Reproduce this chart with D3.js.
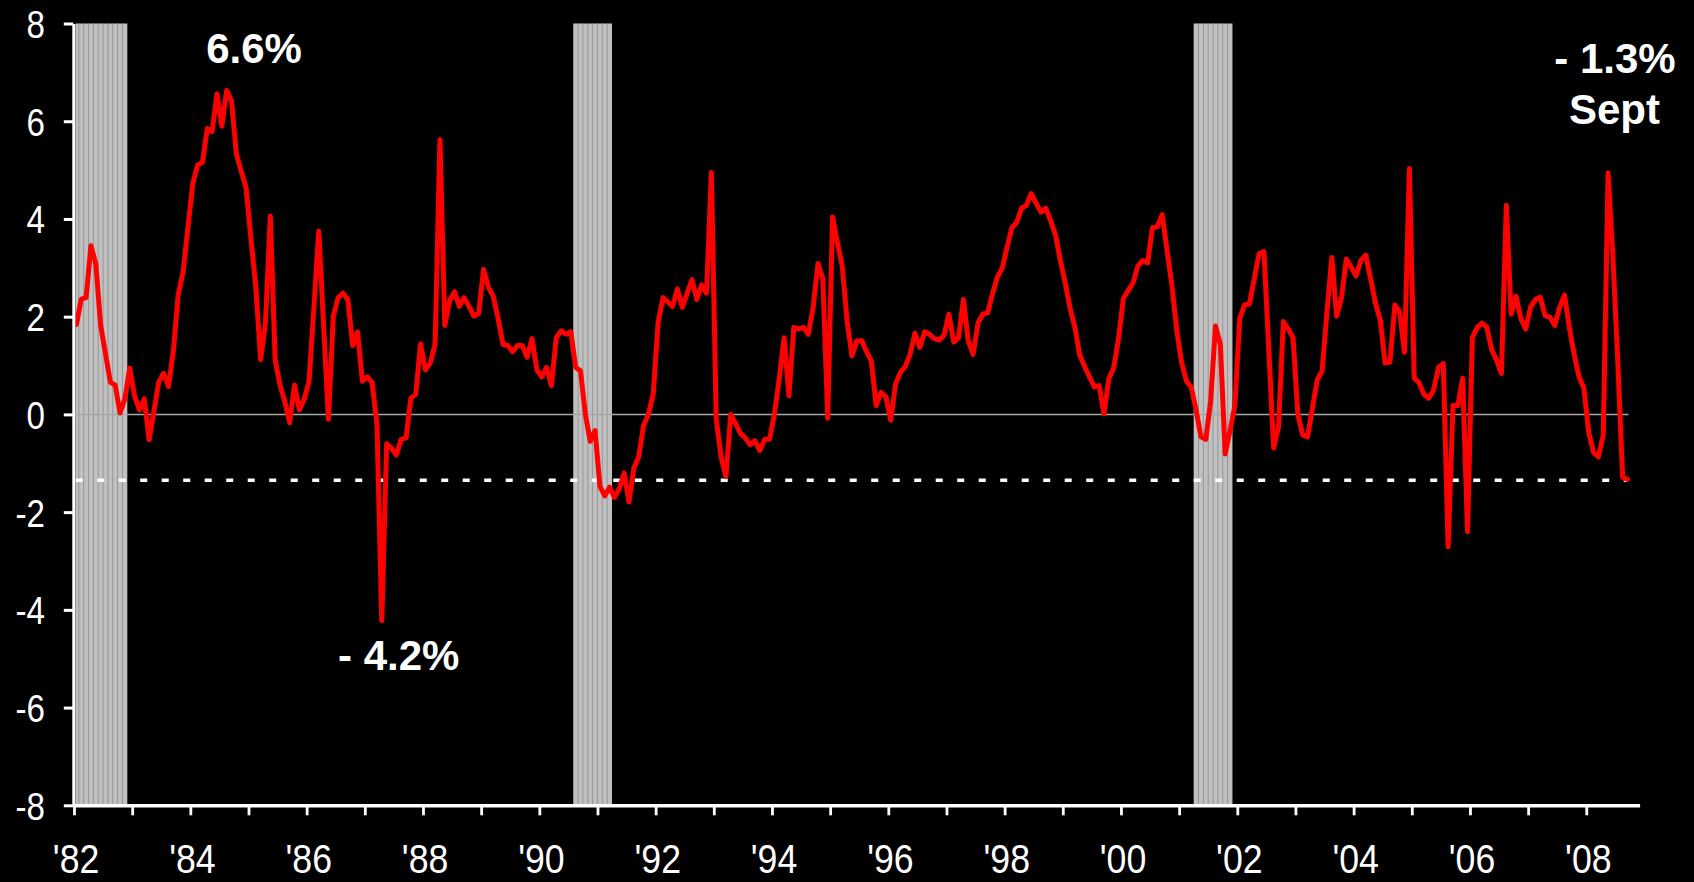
<!DOCTYPE html>
<html>
<head>
<meta charset="utf-8">
<script src="https://cdn.jsdelivr.net/npm/d3@7"></script>
<style>
  html, body { margin: 0; padding: 0; background: #000; overflow: hidden; }
  svg { display: block; }
</style>
</head>
<body>
<svg id="chart" width="1694" height="882"></svg>
<script>
// ---- Data ----
// Month offset counted from Jan 1982 (0 = Jan 1982, 320 = Sep 2008)
const monthsSinceJan1982 = [
  0,1,2,3,4,5,6,7,8,9,10,11,12,13,14,15,17,18,19,20,21,22,24,25,26,27,28,29,30,31,32,33,34,35,36,37,38,39,
  40,41,42,43,44,45,46,47,48,49,50,51,52,53,54,55,56,57,58,59,60,61,62,63,64,65,66,67,68,69,70,71,72,73,74,
  75,76,77,78,79,80,81,82,83,84,85,86,87,88,89,90,91,92,93,94,95,96,97,98,99,100,101,102,103,104,105,106,
  107,108,109,110,111,112,113,114,115,116,117,118,119,120,121,122,123,124,125,126,127,128,129,130,131,132,
  133,134,135,136,137,138,139,140,141,142,143,144,145,146,147,148,149,150,151,152,153,154,155,156,157,158,
  159,160,161,162,163,164,165,166,167,168,169,170,171,172,173,174,175,176,177,178,179,180,181,182,183,184,
  185,186,187,188,189,190,191,192,193,194,195,196,197,198,199,200,201,202,203,204,205,206,207,208,210,211,
  212,213,214,215,216,217,218,219,220,221,222,223,224,226,227,228,229,230,231,232,233,234,235,236,237,238,
  239,240,241,242,244,245,247,248,249,250,251,252,253,254,255,256,257,258,259,260,261,262,263,264,265,266,
  267,268,269,270,271,272,273,274,275,276,277,278,279,280,281,282,283,284,285,286,287,288,289,290,291,292,
  293,294,295,296,297,298,299,300,301,302,303,304,305,306,307,308,309,310,311,312,313,314,315,316,317,318,
  319,320
];
const values = [
  1.84,2.36,2.39,3.45,3.08,1.82,1.24,0.66,0.6,0.03,0.32,0.95,0.38,0.09,0.32,-0.52,0.67,0.84,0.57,1.3,2.45,2.91,
  4.72,5.1,5.16,5.85,5.79,6.56,5.9,6.63,6.42,5.33,4.98,4.64,3.6,2.62,1.12,1.87,
  4.06,1.12,0.6,0.26,-0.17,0.6,0.09,0.31,0.68,2.19,3.75,1.82,-0.1,2.01,2.39,2.48,2.35,1.41,1.69,0.68,0.77,0.65,
  -0.19,-4.22,-0.6,-0.69,-0.83,-0.51,-0.48,0.33,0.41,1.44,0.91,1.05,1.44,
  5.62,1.82,2.33,2.51,2.21,2.39,2.21,2.01,2.07,2.97,2.6,2.42,1.96,1.43,1.41,1.28,1.41,1.41,1.17,1.55,0.91,0.77,
  0.96,0.59,1.57,1.71,1.64,1.69,0.96,0.89,0,-0.55,
  -0.33,-1.47,-1.67,-1.49,-1.7,-1.52,-1.2,-1.79,-1.1,-0.87,-0.23,0,0.41,1.87,2.39,2.3,2.21,2.57,2.19,2.48,2.76,
  2.35,2.65,2.48,4.95,-0.1,
  -0.87,-1.27,0,-0.19,-0.39,-0.48,-0.62,-0.54,-0.74,-0.51,-0.51,0,0.73,1.57,0.38,1.78,1.75,1.78,1.64,2.19,3.09,
  2.78,-0.08,4.04,3.52,3.03,
  1.91,1.2,1.5,1.51,1.29,1.09,0.18,0.45,0.36,-0.12,0.62,0.86,0.98,1.23,1.66,1.37,1.69,1.64,1.55,1.52,1.62,2.05,
  1.48,1.57,2.35,1.5,
  1.23,1.87,2.05,2.08,2.47,2.81,2.99,3.42,3.82,3.93,4.22,4.28,4.52,4.32,4.14,4.22,3.96,3.67,3.15,2.69,2.17,1.78,
  1.21,0.98,0.56,0.59,
  0.01,0.73,0.95,1.55,2.37,2.54,2.69,3.04,3.15,3.1,3.82,3.84,4.09,2.65,1.73,1.07,0.68,0.56,0.09,-0.46,-0.51,0.27,
  1.81,1.44,-0.81,-0.33,
  0.18,1.96,2.24,2.26,3.29,3.33,-0.69,-0.26,1.9,1.75,1.57,0,-0.42,-0.46,0.13,0.71,0.89,2.1,3.21,2.01,2.39,3.18,
  3.01,2.83,3.15,3.26,
  2.78,2.28,1.93,1.05,1.07,2.24,2.1,1.27,5.03,0.74,0.65,0.41,0.33,0.5,0.96,1.04,-2.71,0.18,0.18,0.74,-2.4,1.57,
  1.78,1.87,1.78,1.32,
  1.11,0.84,4.28,2.05,2.42,1.96,1.75,2.19,2.35,2.4,2.02,1.99,1.82,2.19,2.44,1.78,1.23,0.77,0.54,-0.37,-0.78,
  -0.87,-0.42,4.94,3.2,1.09,
  -1.29,-1.33
];
// Recessions: first and last month (offset from Jan 1982)
const recessionStarts = [0, 103, 231];
const recessionEnds   = [10, 110, 238];
const currentLevel = -1.35;
const yTickValues = [8, 6, 4, 2, 0, -2, -4, -6, -8];
const xTickYears = d3.range(1982, 2009);
const xTickLabels = ["'82","'84","'86","'88","'90","'92","'94","'96","'98","'00","'02","'04","'06","'08"];
const annotationTexts = ["6.6%", "- 4.2%", "- 1.3%", "Sept"];

// ---- Chart ----
const svg = d3.select("#chart");
const W = 1694, H = 882;
svg.append("rect").attr("width", W).attr("height", H).attr("fill", "#000");

const x = d3.scaleLinear().domain([-0.5, 322.5]).range([74, 1639.6]);
const y = d3.scaleLinear().domain([-8, 8]).range([805.3, 23.5]);

const FONT = "'Liberation Sans', Arial, Helvetica, sans-serif";
const SX = 0.85; // horizontal condensing of axis labels

// Recession shading: a light block with a thin line at each month boundary
const recG = svg.append("g");
recessionStarts.forEach((s, i) => {
  const e = recessionEnds[i];
  const x0 = Math.max(x(s - 0.5), 75.5);
  recG.append("rect")
    .attr("x", x0)
    .attr("width", x(e + 0.5) - x0)
    .attr("y", y(8))
    .attr("height", y(-8) - y(8))
    .attr("fill", "#c0c0c0");
  recG.selectAll(null).data(d3.range(s + 0.5, e + 0.5, 1)).join("line")
    .attr("x1", d => x(d)).attr("x2", d => x(d))
    .attr("y1", y(8)).attr("y2", y(-8))
    .attr("stroke", "#969696")
    .attr("stroke-width", 1);
});

const lastM = monthsSinceJan1982[monthsSinceJan1982.length - 1];

// Zero line
svg.append("line")
  .attr("x1", 74).attr("x2", x(lastM) + 1)
  .attr("y1", y(0)).attr("y2", y(0))
  .attr("stroke", "#a6a6a6").attr("stroke-width", 1.5);

// Dashed current-level line
svg.append("line")
  .attr("x1", x(0) - 0.7).attr("x2", x(lastM))
  .attr("y1", y(currentLevel)).attr("y2", y(currentLevel))
  .attr("stroke", "#fff").attr("stroke-width", 3.5)
  .attr("stroke-dasharray", "7 14.5");

// Data line
const pts = monthsSinceJan1982.map((m, i) => ({ m, v: values[i] }));
svg.append("path")
  .datum(pts)
  .attr("fill", "none")
  .attr("stroke", "#ff0000")
  .attr("stroke-width", 5)
  .attr("stroke-linejoin", "round")
  .attr("stroke-linecap", "round")
  .attr("d", d3.line().x(d => x(d.m)).y(d => y(d.v)));

// Y axis
const yAxisG = svg.append("g")
  .attr("transform", "translate(73.3,0)")
  .call(d3.axisLeft(y).tickValues(yTickValues).tickSize(9.5).tickSizeOuter(0).tickFormat(d => String(d)));
yAxisG.select(".domain").attr("stroke", "#fff").attr("stroke-width", 3);
yAxisG.selectAll(".tick line").attr("stroke", "#fff").attr("stroke-width", 3);
yAxisG.selectAll(".tick text")
  .attr("fill", "#fff")
  .attr("font-family", FONT)
  .attr("font-size", 39)
  .attr("x", -28.3 / SX)
  .attr("dy", null)
  .attr("y", 14)
  .attr("transform", `scale(${SX},1)`);

// X axis
const tickMonths = xTickYears.map(yr => (yr - 1982) * 12 - 0.5);
const xAxisG = svg.append("g")
  .attr("transform", `translate(0,${y(-8)})`)
  .call(d3.axisBottom(x).tickValues(tickMonths).tickSize(10).tickSizeOuter(0)
    .tickFormat((d, i) => (i % 2 === 0 ? xTickLabels[i / 2] : "")));
xAxisG.select(".domain").attr("stroke", "#fff").attr("stroke-width", 3.5);
xAxisG.selectAll(".tick line").attr("stroke", "#fff").attr("stroke-width", 2.8);
xAxisG.selectAll(".tick text")
  .attr("fill", "#fff")
  .attr("font-family", FONT)
  .attr("font-size", 40)
  .attr("x", 1.5 / SX)
  .attr("dy", null)
  .attr("y", 68)
  .attr("transform", `scale(${SX * 1.05},1)`);
svg.selectAll(".domain").raise();

// Annotations
const annPos = [
  { x: 254, y: 63 },
  { x: 398.7, y: 669.6 },
  { x: 1615, y: 73.3 },
  { x: 1614.5, y: 123.5 }
];
svg.append("g").selectAll("text").data(annotationTexts).join("text")
  .attr("x", (d, i) => annPos[i].x)
  .attr("y", (d, i) => annPos[i].y)
  .attr("text-anchor", "middle")
  .attr("font-family", FONT)
  .attr("font-weight", "bold")
  .attr("font-size", 42)
  .attr("fill", "#fff")
  .text(d => d);
</script>
</body>
</html>
